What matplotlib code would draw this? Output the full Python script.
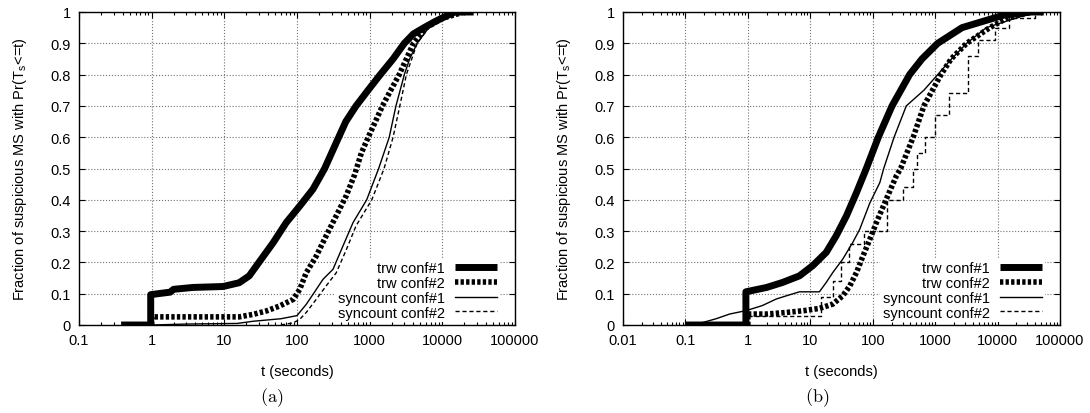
import matplotlib

matplotlib.use("Agg")
import matplotlib.pyplot as plt
from matplotlib.ticker import FixedLocator, LogLocator, NullFormatter

plt.rcParams["font.family"] = ["Liberation Sans", "DejaVu Sans"]
plt.rcParams["mathtext.fontset"] = "cm"

# ---- panel (a) ------------------------------------------------------------
a_trw1_t = [0.38, 0.97, 0.97, 1.8, 2.0, 3.7, 9.6, 16, 22, 31, 47, 71, 109, 166, 240,
            300, 375, 470, 650, 950, 1400, 2100, 3000, 4000, 5600, 8000, 12000, 15000, 27000]
a_trw1_y = [0.0, 0.0, 0.097, 0.105, 0.114, 0.12, 0.123, 0.135, 0.157, 0.205, 0.263, 0.327,
            0.38, 0.434, 0.5, 0.55, 0.6, 0.65, 0.7, 0.75, 0.8, 0.85, 0.9, 0.93, 0.95, 0.97,
            0.99, 1.0, 1.0]

a_trw2_t = [1.0, 1.0, 16, 25, 38, 58, 89, 109, 134, 184, 252, 347, 476, 620, 770, 955,
            1200, 1500, 1950, 2550, 3200, 4000, 6000, 10000, 20000]
a_trw2_y = [0.0, 0.026, 0.026, 0.034, 0.045, 0.061, 0.082, 0.114, 0.167, 0.22, 0.285, 0.349,
            0.413, 0.48, 0.55, 0.6, 0.65, 0.7, 0.75, 0.8, 0.85, 0.9, 0.95, 0.98, 1.0]

a_sc1_t = [1.0, 3, 15, 25, 60, 100, 134, 166, 228, 313, 430, 590, 910, 1330, 1860,
           2300, 3000, 3550, 4500, 6500, 15000]
a_sc1_y = [0.0, 0.003, 0.005, 0.012, 0.02, 0.03, 0.066, 0.098, 0.146, 0.178, 0.253, 0.327,
           0.4, 0.5, 0.6, 0.7, 0.8, 0.85, 0.9, 0.95, 1.0]

a_sc2_t = [60, 89, 109, 134, 184, 252, 347, 476, 650, 1070, 1580, 2100, 2600, 3200,
           4500, 6500, 15000]
a_sc2_y = [0.0, 0.007, 0.018, 0.04, 0.082, 0.125, 0.167, 0.24, 0.317, 0.4, 0.5, 0.6, 0.7,
           0.8, 0.9, 0.95, 1.0]

# ---- panel (b) ------------------------------------------------------------
b_trw1_t = [0.1, 0.93, 0.93, 2, 3.6, 6.7, 11, 18, 26, 38, 55, 79, 123, 204, 390, 615,
            1100, 2700, 5800, 12600, 35000, 55000]
b_trw1_y = [0.0, 0.0, 0.106, 0.12, 0.136, 0.157, 0.19, 0.232, 0.285, 0.349, 0.423, 0.5,
            0.6, 0.7, 0.8, 0.85, 0.9, 0.95, 0.97, 0.99, 1.0, 1.0]

b_trw2_t = [1.0, 1.0, 2, 4.1, 8, 14, 23, 33, 43, 55, 70, 90, 115, 165, 240, 280, 445,
            660, 1240, 1800, 3200, 7500, 14000, 35000]
b_trw2_y = [0.0, 0.035, 0.035, 0.04, 0.046, 0.053, 0.067, 0.093, 0.125, 0.168, 0.221,
            0.274, 0.328, 0.402, 0.477, 0.5, 0.6, 0.7, 0.8, 0.85, 0.9, 0.95, 0.98, 1.0]

b_sc1_t = [0.1, 0.19, 0.31, 0.51, 0.94, 1.7, 2.85, 4.1, 6.7, 14, 18, 23, 33, 48, 62, 90,
           130, 150, 220, 345, 660, 1100, 1830, 3200, 6600, 40000]
b_sc1_y = [0.0, 0.008, 0.02, 0.035, 0.046, 0.062, 0.083, 0.093, 0.106, 0.106, 0.136,
           0.168, 0.21, 0.264, 0.306, 0.39, 0.455, 0.5, 0.6, 0.7, 0.75, 0.8, 0.85, 0.9,
           0.95, 1.0]

b_sc2_t = [1.0, 15, 23, 31, 42, 72, 170, 300, 450, 520, 700, 1000, 1650, 3300, 4800,
           9000, 15000, 40000, 50000]
b_sc2_y = [0.03, 0.09, 0.14, 0.2, 0.26, 0.3, 0.4, 0.44, 0.5, 0.55, 0.6, 0.67, 0.74, 0.86,
           0.91, 0.95, 0.98, 1.0, 1.0]

labels = ["trw conf#1", "trw conf#2", "syncount conf#1", "syncount conf#2"]
ylabel = r"Fraction of suspicious MS with Pr(T$_\mathregular{s}$<=t)"
FS = 10.5


def draw_panel(ax, curves, xmin, caption_x, caption):
    (t1, y1), (t2, y2), (t3, y3), (t4, y4) = curves
    ax.plot(t1, y1, color="black", lw=5.0, solid_capstyle="butt", label=labels[0], zorder=4)
    ax.plot(t2, y2, color="black", lw=4.0, ls=(0, (0.6, 0.4)), label=labels[1], zorder=4)
    ax.plot(t3, y3, color="black", lw=1.0, label=labels[2], zorder=4)
    ax.plot(t4, y4, color="black", lw=1.0, ls=(0, (3, 2)), label=labels[3],
            drawstyle="steps-post" if caption == "(b)" else "default", zorder=4)

    ax.set_xscale("log")
    ax.set_xlim(xmin, 1e5)
    ax.set_ylim(0, 1)
    ax.yaxis.set_major_locator(FixedLocator([i / 10 for i in range(11)]))
    ax.set_yticklabels(["0"] + [f"{i / 10:g}" for i in range(1, 10)] + ["1"])
    ax.xaxis.set_minor_locator(LogLocator(base=10, subs=range(2, 10), numticks=20))
    ax.xaxis.set_minor_formatter(NullFormatter())
    ticks = [xmin * 10 ** i for i in range(20) if xmin * 10 ** i <= 1e5 * 1.01]
    ax.set_xticks(ticks)
    ax.set_xticklabels([f"{t:g}" if t < 1e5 else "100000" for t in ticks])
    ax.tick_params(which="both", direction="in", top=True, right=True, labelsize=FS,
                   width=0.8)
    ax.tick_params(which="major", length=4, pad=6)
    ax.tick_params(which="minor", length=2)
    ax.grid(True, which="major", ls=":", color="0.45", lw=0.8, zorder=0)
    for s in ax.spines.values():
        s.set_linewidth(1.0)
    ax.set_xlabel("t (seconds)", fontsize=FS, labelpad=12)
    ax.set_ylabel(ylabel, fontsize=FS, labelpad=15)

    # white key box hides the grid, but the curves stay on top of it
    leg = ax.legend(loc="lower right", bbox_to_anchor=(1 - 15 / 436, 0.008),
                    markerfirst=False, fontsize=FS, handlelength=2.9,
                    handletextpad=0.7, labelspacing=0.05, borderpad=0.2,
                    borderaxespad=0.0, frameon=True, fancybox=False, framealpha=1.0)
    leg.get_frame().set_edgecolor("none")
    leg.set_zorder(2)
    for txt in leg.get_texts():
        txt.set_ha("right")
    ax.figure.text(caption_x, 0.04, r"$\mathrm{" + caption + "}$", ha="center",
                   va="center", fontsize=13)


fig = plt.figure(figsize=(10.9, 4.14), dpi=100)
ax_a = fig.add_axes([79 / 1090, 88 / 414, 436 / 1090, 313 / 414])
ax_b = fig.add_axes([623 / 1090, 88 / 414, 437 / 1090, 313 / 414])

draw_panel(ax_a, [(a_trw1_t, a_trw1_y), (a_trw2_t, a_trw2_y), (a_sc1_t, a_sc1_y),
                  (a_sc2_t, a_sc2_y)], 0.1, 272 / 1090, "(a)")
draw_panel(ax_b, [(b_trw1_t, b_trw1_y), (b_trw2_t, b_trw2_y), (b_sc1_t, b_sc1_y),
                  (b_sc2_t, b_sc2_y)], 0.01, 817 / 1090, "(b)")

fig.savefig("out.png", dpi=100)
